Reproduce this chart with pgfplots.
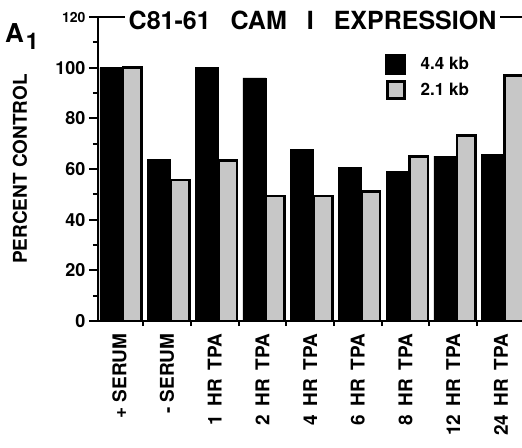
\documentclass[border=0pt]{standalone}
\usepackage{pgfplots}
\pgfplotsset{compat=1.18}
\usepackage{fontspec}
\setmainfont{TeX Gyre Heros}
\newcommand{\fs}[1]{\fontsize{#1bp}{#1bp}\selectfont\bfseries}
\newcommand{\ws}{\hspace{0.45em}}
\begin{document}
\begin{tikzpicture}
\begin{axis}[
  name=ax,
  scale only axis, width=424bp, height=304bp,
  xmin=-0.4476, xmax=8.441, ymin=0, ymax=120,
  axis lines*=left,
  axis line style={line width=2.5bp},
  clip mode=individual,
  ybar,
  ytick={0,20,40,60,80,100,120},
  yticklabels={0,20,40,60,80,100,{\fs{14}120}},
  minor ytick={10,30,50,70,90,110},
  yticklabel style={font=\fs{18}},
  xtick={0,1,2,3,4,5,6,7,8},
  xticklabels={+ SERUM,- SERUM,1\ws HR\ws TPA,2\ws HR\ws TPA,4\ws HR\ws TPA,6\ws HR\ws TPA,8\ws HR\ws TPA,12\ws HR\ws TPA,24\ws HR\ws TPA},
  xticklabel style={rotate=90, anchor=east, font=\fs{19}},
  minor xtick={0.5,1.5,2.5,3.5,4.5,5.5,6.5,7.5},
  major x tick style={draw=none},
  tick align=outside,
  major tick length=9bp, minor tick length=5bp,
  tick style={black, line width=2bp},
  every axis y label/.style={at={(rel axis cs:0,0.5)}, xshift=-78bp, rotate=90, anchor=center, font=\fs{19}},
  ylabel={PERCENT CONTROL},
  legend style={at={(rel axis cs:0.677,1)}, anchor=north west, yshift=-37bp, draw=none, fill=none, inner sep=0pt, font=\fs{17}, row sep=5bp, column sep=13bp},
  legend cell align=left,
]
\addplot[fill=black, draw=black, line width=0.5bp, bar width=23bp, bar shift=-8bp,
  legend image code/.code={\draw[fill=black, draw=black] (0bp,-10bp) rectangle (20bp,10bp);}]
  coordinates {(0,100) (1,63.7) (2,100.2) (3,96.0) (4,67.7) (5,60.6) (6,59.0) (7,65.1) (8,65.8)};
\addlegendentry{4.4 kb}
\addplot[fill=black!22, draw=black, line width=2.5bp, bar width=18.5bp, bar shift=13bp,
  legend image code/.code={\draw[fill=black!22, draw=black, line width=3bp] (1.5bp,-8.5bp) rectangle (18.5bp,8.5bp);}]
  coordinates {(0,100) (1,55.6) (2,63.4) (3,49.4) (4,49.4) (5,51.1) (6,65.0) (7,73.3) (8,96.9)};
\addlegendentry{2.1 kb}
\draw[line width=2.5bp] (rel axis cs:0,1) -- (rel axis cs:1,1);
\node[fill=white, inner xsep=4bp, inner ysep=2bp, anchor=base, font=\fs{25}, yshift=-13bp] at (rel axis cs:0.506,1) {C81-61\hspace{0.8em}CAM\hspace{0.8em}I\hspace{0.8em}EXPRESSION};
\node[anchor=base west, inner sep=0pt, xshift=-93bp, yshift=-26bp, font=\fs{26}] at (rel axis cs:0,1) {A\kern2bp\raisebox{-7bp}{\fs{23}1}};
\end{axis}
\pgfresetboundingbox
\path[use as bounding box] (-98bp,-127bp) rectangle (424bp,321bp);
\end{tikzpicture}
\end{document}
